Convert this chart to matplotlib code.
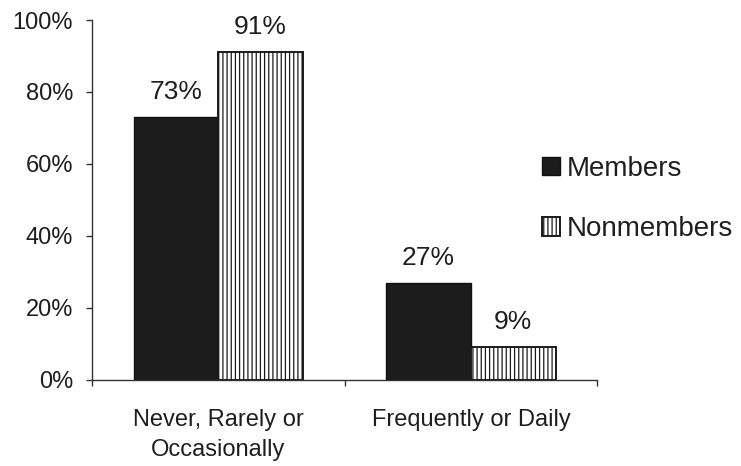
import matplotlib
matplotlib.use("Agg")
import matplotlib.pyplot as plt
import numpy as np

categories = ["Never, Rarely or\nOccasionally", "Frequently or Daily"]
series_names = ["Members", "Nonmembers"]
members = [73, 27]
nonmembers = [91, 9]
y_ticks = [0, 20, 40, 60, 80, 100]

plt.rcParams["font.family"] = ["Liberation Sans", "DejaVu Sans"]
plt.rcParams["hatch.linewidth"] = 0.9
plt.rcParams["hatch.color"] = "#1a1a1a"

fig = plt.figure(figsize=(7.41, 4.66), dpi=100)
ax = fig.add_axes([0.124, 0.185, 0.682, 0.772])

x = np.arange(len(categories))
w = 0.335
b1 = ax.bar(x - w / 2, members, w, color="#1c1c1c", edgecolor="#111111",
            linewidth=1.0, label=series_names[0])
b2 = ax.bar(x + w / 2, nonmembers, w, color="white", edgecolor="#1a1a1a",
            hatch="||||", linewidth=1.4, label=series_names[1])

for bars, vals in ((b1, members), (b2, nonmembers)):
    for r, v in zip(bars, vals):
        ax.text(r.get_x() + r.get_width() / 2, v + 5, f"{v}%",
                ha="center", va="baseline", fontsize=19, color="#1e1e1e")

ax.set_xlim(-0.5, 1.5)
ax.set_ylim(0, 100)
ax.set_yticks(y_ticks)
ax.set_yticklabels([f"{t}%" for t in y_ticks], fontsize=17, color="#1e1e1e")
ax.tick_params(axis="y", length=4.5, width=1, pad=9, color="#333333")

# category labels centred between the boundary ticks
ax.set_xticks([-0.5, 0.5, 1.5])
ax.set_xticklabels([])
ax.tick_params(axis="x", length=4.5, width=1, direction="out", color="#333333")
for xi, lab in zip(x, categories):
    ax.annotate(lab, xy=(xi, 0), xycoords=("data", "axes fraction"),
                xytext=(0, -21), textcoords="offset points",
                ha="center", va="top", fontsize=17, color="#1e1e1e",
                linespacing=1.45)

for s in ("top", "right"):
    ax.spines[s].set_visible(False)
for s in ("left", "bottom"):
    ax.spines[s].set_color("#333333")
    ax.spines[s].set_linewidth(1.0)

fig.legend(handles=[b1, b2], labels=series_names, loc="center left",
           bbox_to_anchor=(0.731, 0.573), bbox_transform=fig.transFigure,
           frameon=False, fontsize=20, handlelength=0.65, handleheight=0.65,
           handletextpad=0.25, labelspacing=1.25, borderpad=0,
           borderaxespad=0, labelcolor="#1e1e1e")

fig.savefig("out.png", dpi=100)
